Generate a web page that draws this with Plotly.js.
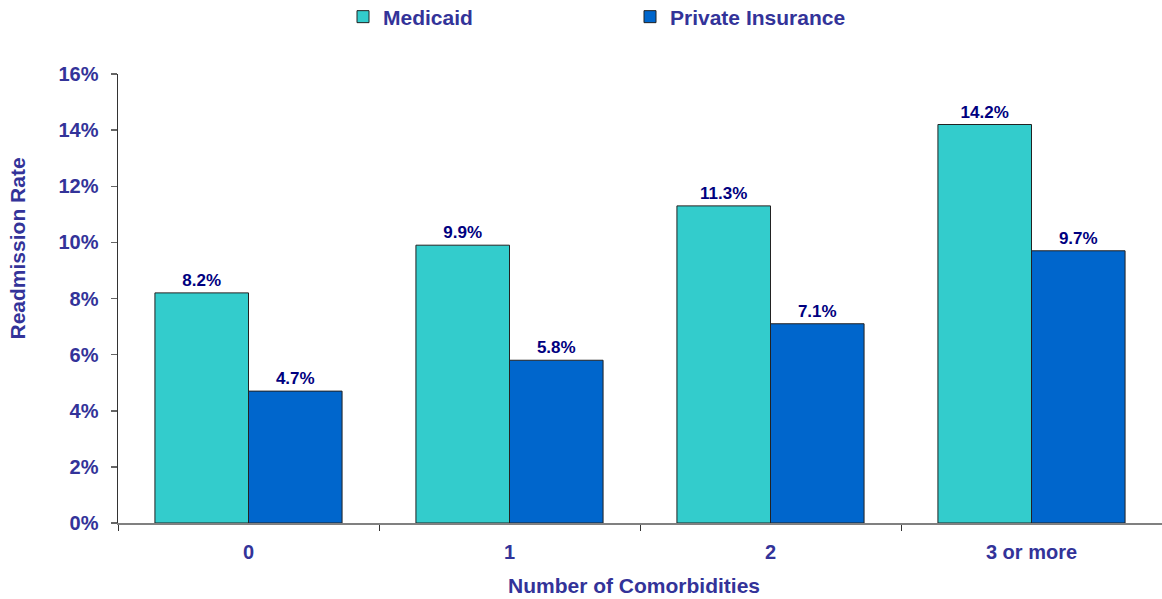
<!DOCTYPE html>
<html>
<head>
<meta charset="utf-8">
<script src="https://cdn.plot.ly/plotly-3.0.1.min.js"></script>
<style>html,body{margin:0;padding:0;background:#fff;}#chart{width:1162px;height:599px;}</style>
</head>
<body>
<div id="chart"></div>
<script>
const categories = ["0", "1", "2", "3 or more"];
const medicaid = [8.2, 9.9, 11.3, 14.2];
const privateIns = [4.7, 5.8, 7.1, 9.7];
const yTicks = [0, 2, 4, 6, 8, 10, 12, 14, 16];

const FONT = "Arial, 'Liberation Sans', sans-serif";
const TXT = "#333399";
const LBL = "#000080";

const common = {
  type: "bar",
  x: categories,
  texttemplate: "%{y:.1f}%",
  textposition: "outside",
  cliponaxis: false,
  textfont: {family: FONT, size: 17, color: LBL, weight: "bold"},
  hoverinfo: "skip"
};

const traces = [
  Object.assign({}, common, {
    name: "Medicaid", y: medicaid,
    marker: {color: "#33CCCC", line: {color: "#222222", width: 1}}
  }),
  Object.assign({}, common, {
    name: "Private Insurance", y: privateIns,
    marker: {color: "#0066CC", line: {color: "#222222", width: 1}}
  })
];

const layout = {
  width: 1162, height: 599,
  margin: {l: 118, r: 0, t: 74, b: 76, pad: 0, autoexpand: false},
  paper_bgcolor: "#ffffff", plot_bgcolor: "#ffffff",
  barmode: "group", bargap: 0.283, bargroupgap: 0,
  font: {family: FONT, color: TXT},
  showlegend: true,
  legend: {
    orientation: "h", xref: "container", yref: "container",
    x: 343 / 1162, xanchor: "left", y: 1 - 17 / 599, yanchor: "middle",
    entrywidth: 242, entrywidthmode: "pixels",
    font: {family: FONT, size: 21, color: TXT, weight: "bold"},
    bgcolor: "rgba(0,0,0,0)", traceorder: "normal"
  },
  xaxis: {
    type: "category", automargin: false,
    showline: true, linecolor: "#808080", linewidth: 1.5,
    ticks: "outside", tickson: "boundaries", ticklen: 6, tickcolor: "#333333", tickwidth: 1,
    ticklabelstandoff: 10,
    tickfont: {family: FONT, size: 20, color: TXT, weight: "bold"},
    showgrid: false, zeroline: false
  },
  yaxis: {
    range: [0, 16], tickvals: yTicks, ticktext: yTicks.map(v => v + "%"),
    automargin: false,
    showline: true, linecolor: "#333333", linewidth: 1.5,
    ticks: "outside", ticklen: 6, tickcolor: "#666666", tickwidth: 1.5,
    ticklabelstandoff: 8,
    tickfont: {family: FONT, size: 20, color: TXT, weight: "bold"},
    showgrid: false, zeroline: false
  },
  annotations: [
    {text: "Readmission Rate", textangle: -90, xref: "paper", yref: "paper",
     x: (17.5 - 118) / 1044, y: (523 - 249) / 449, xanchor: "center", yanchor: "middle",
     showarrow: false, font: {family: FONT, size: 21, color: TXT, weight: "bold"}},
    {text: "Number of Comorbidities", xref: "paper", yref: "paper",
     x: (634 - 118) / 1044, y: (523 - 585) / 449, xanchor: "center", yanchor: "middle",
     showarrow: false, font: {family: FONT, size: 21, color: TXT, weight: "bold"}}
  ]
};

Plotly.newPlot("chart", traces, layout, {displayModeBar: false, staticPlot: true});
</script>
</body>
</html>
